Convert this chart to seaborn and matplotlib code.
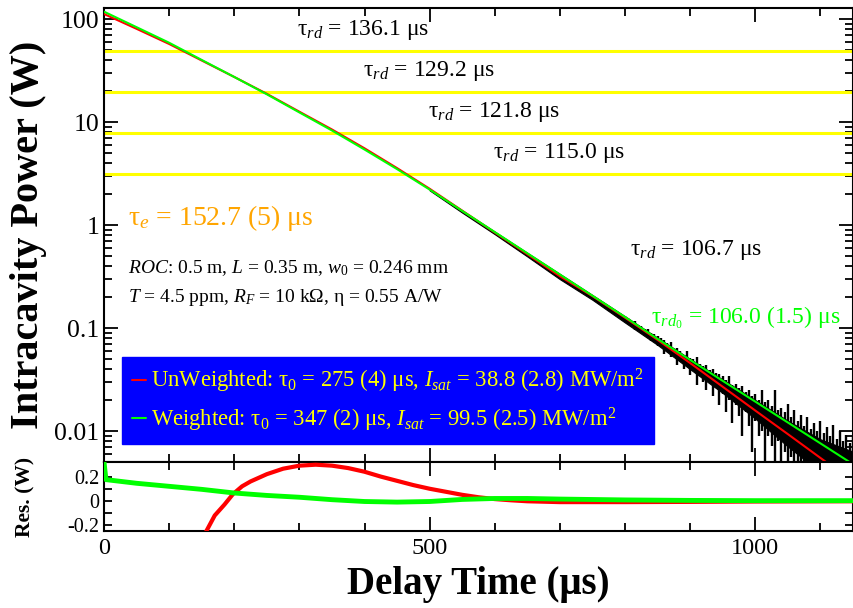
import matplotlib
matplotlib.use("Agg")
import matplotlib.pyplot as plt
import seaborn as sns
from matplotlib.lines import Line2D
from matplotlib.ticker import FixedLocator, FixedFormatter, NullFormatter

# ring-down fits (W), read every 50 us
fit_t = [0, 50, 100, 150, 200, 250, 300, 350, 400, 450, 500, 550,
         600, 650, 700, 750, 800, 850, 900, 950, 1000, 1050, 1100, 1150]
weighted_fit = [118, 83.4, 58.9, 40.1, 27.4, 18.6, 12.4, 8.28, 5.41, 3.49, 2.21, 1.37,
                0.855, 0.532, 0.331, 0.206, 0.128, 0.0785, 0.0490, 0.0307, 0.0193, 0.0121,
                0.00759, 0.00476]
unweighted_fit = [112, 80.4, 57.3, 39.6, 27.4, 18.8, 12.6, 8.47, 5.56, 3.57, 2.25, 1.38,
                  0.847, 0.521, 0.318, 0.204, 0.126, 0.0767, 0.0457, 0.0269, 0.0158, 0.00933,
                  0.00548, 0.00324]

# measured trace: solid envelope (W)
band_t = [500, 550, 600, 650, 700, 750, 800, 850, 900, 950, 1000, 1050, 1100, 1150]
band_hi = [2.22, 1.38, 0.861, 0.537, 0.335, 0.209, 0.130, 0.0804, 0.0501, 0.0316,
           0.0200, 0.0126, 0.00832, 0.00631]
band_lo = [2.17, 1.32, 0.815, 0.495, 0.298, 0.188, 0.113, 0.0685, 0.0398, 0.0234,
           0.0132, 0.00708, 0.00398, 0.00316]

# noise spikes of the trace, read in decades (log10 W) every 5 us
spike_t = list(range(800, 1151, 5))
spike_top = [-0.88, -0.90, -0.93, -0.93, -0.97, -0.98, -1.01, -1.01, -1.05, -1.06,
             -1.08, -1.10, -1.12, -1.15, -1.14, -1.20, -1.19, -1.22, -1.26, -1.22,
             -1.29, -1.30, -1.28, -1.35, -1.37, -1.36, -1.41, -1.40, -1.44, -1.45,
             -1.47, -1.50, -1.47, -1.55, -1.54, -1.58, -1.56, -1.62, -1.60, -1.66,
             -1.64, -1.70, -1.60, -1.72, -1.70, -1.76, -1.60, -1.80, -1.78, -1.82,
             -1.74, -1.86, -1.80, -1.90, -1.84, -1.95, -1.86, -1.98, -1.92, -2.00,
             -1.90, -2.02, -1.96, -2.05, -1.94, -2.08, -2.00, -2.10, -2.04, -2.12,
             -2.06]
spike_bot = [-0.93, -0.96, -0.97, -1.02, -1.00, -1.05, -1.07, -1.08, -1.13, -1.11,
             -1.17, -1.16, -1.25, -1.21, -1.28, -1.26, -1.36, -1.30, -1.40, -1.35,
             -1.46, -1.42, -1.55, -1.45, -1.52, -1.60, -1.50, -1.66, -1.58, -1.75,
             -1.64, -1.82, -1.70, -1.92, -1.75, -1.85, -2.05, -1.82, -1.95, -2.20,
             -1.90, -2.05, -2.00, -2.35, -2.05, -2.15, -2.40, -2.10, -2.40, -2.20,
             -2.40, -2.25, -2.40, -2.30, -2.40, -2.40, -2.35, -2.40, -2.40, -2.40,
             -2.40, -2.40, -2.40, -2.40, -2.40, -2.40, -2.40, -2.40, -2.40, -2.40,
             -2.40]

# power levels where the local ring-down time was evaluated
level_p = [48.9, 19.5, 7.82, 3.13]

# residuals (W)
res_w_t = [0, 3, 50, 100, 150, 200, 250, 300, 350, 400, 450, 500, 550, 600, 650,
           700, 800, 900, 1000, 1150]
res_w = [0.32, 0.175, 0.145, 0.12, 0.095, 0.065, 0.045, 0.03, 0.01, -0.005, -0.01,
         -0.005, 0.012, 0.02, 0.02, 0.015, 0.008, 0.004, 0.002, 0.002]
res_u_t = [157, 170, 185, 198, 212, 225, 250, 275, 300, 325, 350, 375, 400, 425, 450,
           475, 500, 525, 550, 575, 600, 625, 650, 700, 800, 900, 1000, 1150]
res_u = [-0.25, -0.12, -0.03, 0.056, 0.12, 0.16, 0.22, 0.265, 0.29, 0.298, 0.29, 0.27,
         0.24, 0.2, 0.165, 0.13, 0.1, 0.075, 0.05, 0.03, 0.015, 0.005, -0.003, -0.01,
         -0.01, -0.008, -0.005, -0.003]

sns.set_style("ticks")
plt.rcParams["font.family"] = ["Liberation Serif", "DejaVu Serif"]
plt.rcParams["mathtext.fontset"] = "custom"
plt.rcParams["mathtext.rm"] = "Liberation Serif"
plt.rcParams["mathtext.it"] = "Liberation Serif:italic"
plt.rcParams["mathtext.bf"] = "Liberation Serif:bold"
plt.rcParams["axes.linewidth"] = 1.5
plt.rcParams["axes.edgecolor"] = "black"
plt.rcParams["text.color"] = "black"
plt.rcParams["axes.labelcolor"] = "black"

fig = plt.figure(figsize=(8.54, 6.08), dpi=100)
ax = fig.add_axes([0.1218, 0.2401, 0.8770, 0.7467])
axr = fig.add_axes([0.1218, 0.1266, 0.8770, 0.1135])

for p in level_p:
    ax.axhline(p, color="#FFFF00", lw=2.2, zorder=1)

ax.fill_between(band_t, band_lo, band_hi, color="black", lw=0.8, zorder=2)
ax.vlines(spike_t, [10 ** v for v in spike_bot], [10 ** v for v in spike_top],
          color="black", lw=1.7, zorder=2)
sns.lineplot(x=fit_t, y=unweighted_fit, ax=ax, color="#FF0000", lw=1.5, zorder=3)
sns.lineplot(x=fit_t, y=weighted_fit, ax=ax, color="#00FF00", lw=1.5, zorder=4)

ax.set_yscale("log")
ax.set_xlim(0, 1150)
ax.set_ylim(0.005, 128)

ax.yaxis.set_major_locator(FixedLocator([0.01, 0.1, 1, 10, 100]))
ax.yaxis.set_major_formatter(FixedFormatter(["0.01", "0.1", "1", "10", "100"]))
minor = [m * 10.0 ** e for e in range(-3, 3) for m in range(2, 10)]
ax.yaxis.set_minor_locator(FixedLocator(minor))
ax.yaxis.set_minor_formatter(NullFormatter())

for a in (ax, axr):
    a.xaxis.set_major_locator(FixedLocator([0, 500, 1000]))
    a.xaxis.set_minor_locator(FixedLocator([100, 200, 300, 400, 600, 700, 800, 900, 1100]))
    a.tick_params(which="both", direction="in", top=True, right=True, width=1.3,
                  labelsize=17.5, colors="black")
    a.tick_params(which="major", length=10)
    a.tick_params(which="minor", length=5.5)
ax.tick_params(axis="x", labelbottom=False)
ax.tick_params(axis="y", labelsize=18.5)

# annotations
ax.text(297, 78, "τ$_{rd}$ = 136.1 μs", fontsize=17, va="center")
ax.text(397, 31.3, "τ$_{rd}$ = 129.2 μs", fontsize=17, va="center")
ax.text(498, 12.5, "τ$_{rd}$ = 121.8 μs", fontsize=17, va="center")
ax.text(598, 5.0, "τ$_{rd}$ = 115.0 μs", fontsize=17, va="center")
ax.text(807, 0.571, "τ$_{rd}$ = 106.7 μs", fontsize=17, va="center")
ax.text(840, 0.125, "τ$_{rd_0}$ = 106.0 (1.5) μs", fontsize=17, va="center",
        color="#00FF00")
ax.text(37, 1.17, "τ$_e$ = 152.7 (5) μs", fontsize=20, va="center", color="#FFA500")
ax.text(37, 0.383, "$ROC$: 0.5 m, $L$ = 0.35 m, $w_0$ = 0.246 mm", fontsize=14,
        va="center")
ax.text(37, 0.2, "$T$ = 4.5 ppm, $R_F$ = 10 kΩ, η = 0.55 A/W", fontsize=14,
        va="center")

handles = [Line2D([], [], color="#FF0000", lw=1.5), Line2D([], [], color="#00FF00", lw=1.5)]
labels = ["UnWeighted: τ$_0$ = 275 (4) μs, $I_{sat}$ = 38.8 (2.8) MW/m$^2$",
          "Weighted: τ$_0$ = 347 (2) μs, $I_{sat}$ = 99.5 (2.5) MW/m$^2$"]
leg = ax.legend(handles, labels, loc="lower left", bbox_to_anchor=(0.024, 0.04),
                borderaxespad=0, fontsize=16.3, handlelength=0.6, handletextpad=0.25,
                borderpad=0.45, labelspacing=0.45, fancybox=False, framealpha=1,
                facecolor="#0000FF", edgecolor="#0000FF", labelcolor="#FFFF00")
leg.set_zorder(6)

ax.set_ylabel("Intracavity Power (W)", fontsize=29, fontweight="bold")
ax.yaxis.set_label_coords(-0.076, 0.5)
ax.set_xlabel("")

# residual panel
sns.lineplot(x=res_u_t, y=res_u, ax=axr, color="#FF0000", lw=3, zorder=3)
sns.lineplot(x=res_w_t, y=res_w, ax=axr, color="#00FF00", lw=3.5, zorder=4)
axr.set_xlim(0, 1150)
axr.set_ylim(-0.248, 0.32)
axr.yaxis.set_major_locator(FixedLocator([-0.2, 0, 0.2]))
axr.yaxis.set_major_formatter(FixedFormatter(["-0.2", "0", "0.2"]))
axr.yaxis.set_minor_locator(FixedLocator([-0.1, 0.1]))
axr.tick_params(axis="y", which="both", length=5.5, labelsize=14.5)
axr.tick_params(axis="x", pad=5)
axr.set_ylabel("Res. (W)", fontsize=15.5, fontweight="bold")
axr.yaxis.set_label_coords(-0.092, 0.5)
axr.set_xlabel("Delay Time (μs)", fontsize=28, fontweight="bold")
axr.xaxis.set_label_coords(0.5, -0.5)

fig.savefig("out.png", dpi=100)
